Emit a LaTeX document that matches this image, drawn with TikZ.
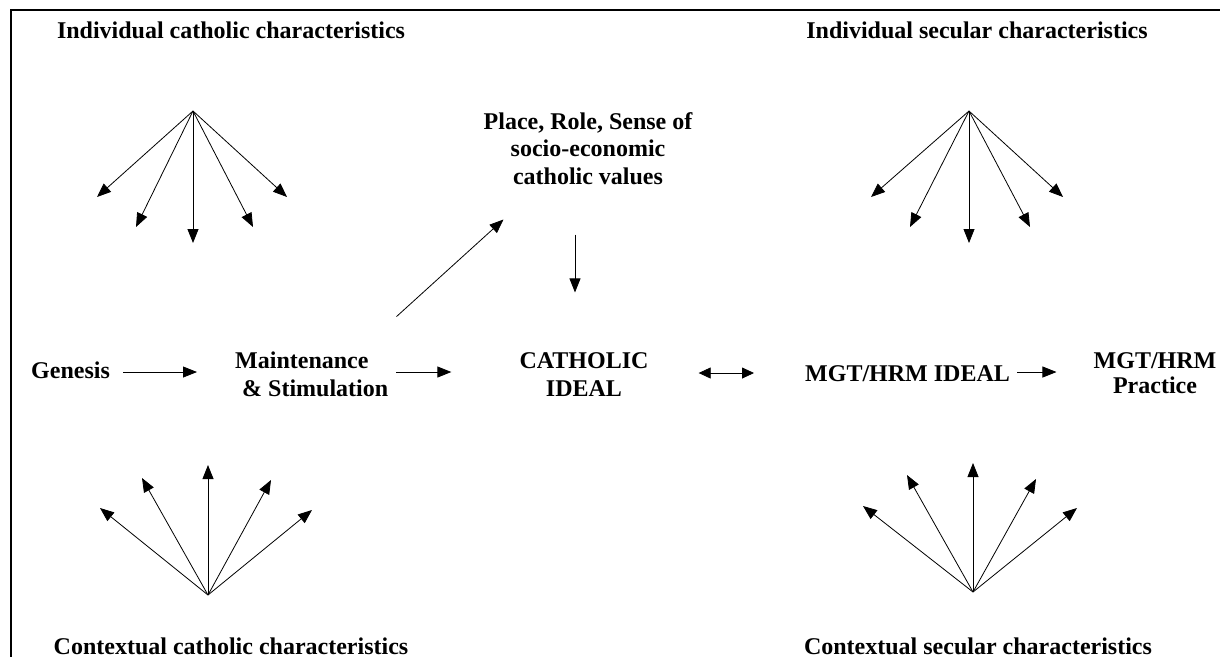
\documentclass[tikz,border=0pt]{standalone}
\usepackage{fontspec}
\setmainfont{Liberation Serif}
\usetikzlibrary{arrows.meta}
\begin{document}
\begin{tikzpicture}[x=1pt,y=-1pt,
  lbl/.style={font=\fontsize{24}{27.5}\selectfont\bfseries, inner sep=0pt, align=center},
  arr/.style={line width=0.8pt, -{Triangle[length=14pt,width=11pt]}},
  darr/.style={line width=0.8pt, {Triangle[length=12pt,width=11pt]}-{Triangle[length=12pt,width=11pt]}},
  frame/.style={line width=2pt}]
\useasboundingbox (0,0) rectangle (1220,657);
\draw[frame] (1220,10) -- (11,10) -- (11,657);

% titles
\node[lbl, anchor=base] (ict) at (231,38) {Individual catholic characteristics};
\node[lbl, anchor=base] (ist) at (977,38) {Individual secular characteristics};
\node[lbl, anchor=base] (cct) at (231,654) {Contextual catholic characteristics};
\node[lbl, anchor=base] (cst) at (978,654) {Contextual secular characteristics};

% main nodes (base anchor = baseline of last line)
\node[lbl, anchor=base west] (genesis) at (31,378) {Genesis};
\node[lbl, anchor=base west, align=left] (maint) at (235,396) {Maintenance\\\hspace{7pt}\& Stimulation};
\node[lbl, anchor=base] (place) at (588,184) {Place, Role, Sense of\\socio-economic\\catholic values};
\node[lbl, anchor=base] (catholic) at (584,396) {CATHOLIC\\IDEAL};
\node[lbl, anchor=base west] (mgt) at (805,381) {MGT/HRM IDEAL};
\node[lbl, anchor=base, font=\fontsize{24}{25}\selectfont\bfseries] (practice) at (1155,393) {MGT/HRM\\Practice};

\coordinate (row) at (0,372);
\draw[arr, shorten <=13pt, shorten >=38pt] (genesis.east |- row) -- (maint.west |- row);
\draw[arr, shorten <=8pt, shorten >=68pt] (maint.east |- row) -- (catholic.west |- row);
\coordinate (row2) at (0,373);
\draw[darr, shorten <=50pt, shorten >=51pt] (catholic.east |- row2) -- (mgt.west |- row2);
\draw[arr, shorten <=7pt, shorten >=37pt] (mgt.east |- row) -- (practice.west |- row);
\draw[arr] ([shift={(8,-35)}]maint.north east) -- ([shift={(20,35)}]place.south west);
\draw[arr] ([shift={(-13,50)}]place.south) -- ([shift={(-9,-60)}]catholic.north);

% fans
\coordinate (tlA) at (193,111);
\foreach \x/\y [count=\i] in {97/197,136/227,193/243,253/227,287/197}
  \coordinate (tl\i) at (\x,\y);
\coordinate (trA) at (969,111);
\foreach \x/\y [count=\i] in {871/197,910/227,969/243,1030/227,1063/197}
  \coordinate (tr\i) at (\x,\y);
\coordinate (blA) at (208,595);
\foreach \x/\y [count=\i] in {100/508,142/478,208/465,271/480,312/510}
  \coordinate (bl\i) at (\x,\y);
\coordinate (brA) at (973,592);
\foreach \x/\y [count=\i] in {863/506,907/475,973/463,1036/479,1077/508}
  \coordinate (br\i) at (\x,\y);
\foreach \f in {tl,tr,bl,br}
  \foreach \i in {1,...,5}
    \draw[arr] (\f A) -- (\f\i);
\end{tikzpicture}
\end{document}
